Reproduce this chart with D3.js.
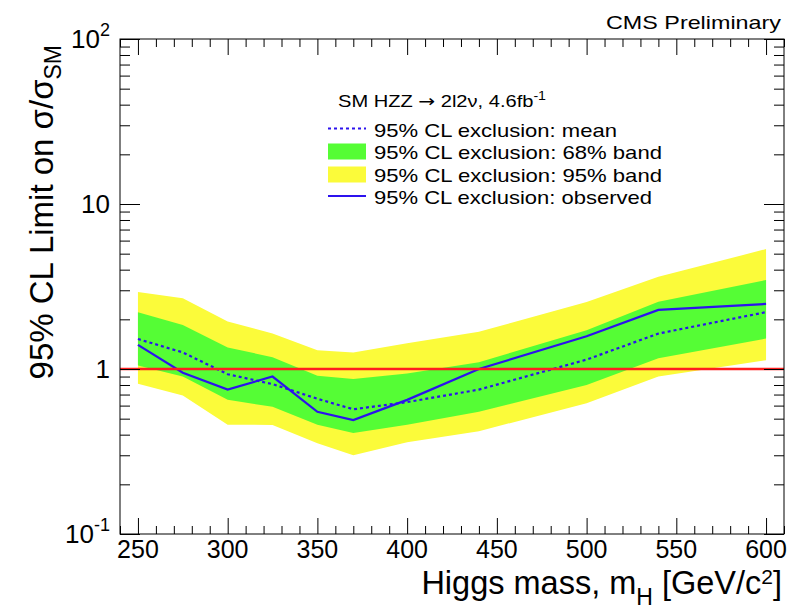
<!DOCTYPE html>
<html>
<head>
<meta charset="utf-8">
<script src="https://cdn.jsdelivr.net/npm/d3@7"></script>
<style>
  html, body { margin: 0; padding: 0; background: #fff; }
  svg { display: block; }
  text { font-family: "Liberation Sans", Arial, sans-serif; fill: #000; }
</style>
</head>
<body>
<div id="chart"></div>
<script>
// Higgs mass points (GeV/c^2) and limits on sigma/sigma_SM
const mass = [250, 275, 300, 325, 350, 370, 400, 440, 500, 540, 600];
const observed = [1.40, 0.95, 0.75, 0.90, 0.55, 0.49, 0.65, 1.00, 1.58, 2.28, 2.48];
const expMean = [1.52, 1.26, 0.93, 0.81, 0.66, 0.57, 0.63, 0.75, 1.14, 1.64, 2.21];
const band68Lo = [1.05, 0.90, 0.65, 0.59, 0.46, 0.41, 0.46, 0.55, 0.80, 1.16, 1.53];
const band68Hi = [2.21, 1.85, 1.35, 1.18, 0.91, 0.87, 0.94, 1.10, 1.72, 2.56, 3.46];
const band95Lo = [0.815, 0.69, 0.46, 0.458, 0.355, 0.30, 0.36, 0.42, 0.62, 0.90, 1.13];
const band95Hi = [2.93, 2.68, 1.94, 1.64, 1.30, 1.26, 1.43, 1.68, 2.55, 3.62, 5.33];

const xMajorTicks = [250, 300, 350, 400, 450, 500, 550, 600];
const yMajorTicks = [0.1, 1, 10, 100];
const yTickLabels = [['10', '-1'], ['1', ''], ['10', ''], ['10', '2']];
const smLine = 1;

const legendHeader = ['SM HZZ ', '\u2192', ' 2l2\u03bd, 4.6fb', '-1'];
const legendLabels = [
  '95% CL exclusion: mean',
  '95% CL exclusion: 68% band',
  '95% CL exclusion: 95% band',
  '95% CL exclusion: observed'
];

const W = 787, H = 609;
const frame = { left: 120, right: 784, top: 39, bottom: 534 };
const yellow = '#fbfb3a', green = '#55fd35', blue = '#2c12ee', red = '#ff1f1f';

const svg = d3.select('#chart').append('svg')
  .attr('width', W).attr('height', H);

const x = d3.scaleLinear().domain([240, 610]).range([frame.left, frame.right]);
const y = d3.scaleLog().domain([0.1, 100]).range([frame.bottom, frame.top]);

const rows = mass.map((m, i) => ({
  m, obs: observed[i], mean: expMean[i],
  lo68: band68Lo[i], hi68: band68Hi[i], lo95: band95Lo[i], hi95: band95Hi[i]
}));

const band = (lo, hi) => d3.area().x(d => x(d.m)).y0(d => y(d[lo])).y1(d => y(d[hi]));

svg.append('path').datum(rows).attr('d', band('lo95', 'hi95')).attr('fill', yellow);
svg.append('path').datum(rows).attr('d', band('lo68', 'hi68')).attr('fill', green);

svg.append('path').datum(rows)
  .attr('d', d3.line().x(d => x(d.m)).y(d => y(d.mean)))
  .attr('fill', 'none').attr('stroke', blue).attr('stroke-width', 2.2)
  .attr('stroke-dasharray', '3,3');

svg.append('path').datum(rows)
  .attr('d', d3.line().x(d => x(d.m)).y(d => y(d.obs)))
  .attr('fill', 'none').attr('stroke', blue).attr('stroke-width', 2.2);

svg.append('line')
  .attr('x1', frame.left).attr('x2', frame.right)
  .attr('y1', y(smLine)).attr('y2', y(smLine))
  .attr('stroke', red).attr('stroke-width', 2.4);

// axes: ROOT style, ticks pointing inwards on all four sides
const xMinor = d3.range(240, 611, 10).filter(v => !xMajorTicks.includes(v));
const yMinor = [];
[0.1, 1, 10].forEach(d => { for (let k = 2; k <= 9; k++) yMinor.push(d * k); });

function addAxis(axis, tx, ty) {
  const g = svg.append('g').attr('transform', `translate(${tx},${ty})`).call(axis);
  g.select('.domain').remove();
  g.selectAll('.tick line').attr('stroke', '#000').attr('stroke-width', 1);
  g.selectAll('.tick text').remove();
  return g;
}

addAxis(d3.axisBottom(x).tickValues(xMajorTicks).tickSize(-16), 0, frame.bottom);
addAxis(d3.axisBottom(x).tickValues(xMinor).tickSize(-8), 0, frame.bottom);
addAxis(d3.axisTop(x).tickValues(xMajorTicks).tickSize(-16), 0, frame.top);
addAxis(d3.axisTop(x).tickValues(xMinor).tickSize(-8), 0, frame.top);
addAxis(d3.axisLeft(y).tickValues(yMajorTicks).tickSize(-20), frame.left, 0);
addAxis(d3.axisLeft(y).tickValues(yMinor).tickSize(-10), frame.left, 0);
addAxis(d3.axisRight(y).tickValues(yMajorTicks).tickSize(-20), frame.right, 0);
addAxis(d3.axisRight(y).tickValues(yMinor).tickSize(-10), frame.right, 0);

svg.append('rect')
  .attr('x', frame.left).attr('y', frame.top)
  .attr('width', frame.right - frame.left).attr('height', frame.bottom - frame.top)
  .attr('fill', 'none').attr('stroke', '#000').attr('stroke-width', 1);

// tick labels
svg.append('g').selectAll('text').data(xMajorTicks).enter().append('text')
  .attr('x', d => x(d)).attr('y', frame.bottom + 24)
  .attr('text-anchor', 'middle').attr('font-size', 25)
  .text(d => d);

yMajorTicks.forEach((v, i) => {
  const t = svg.append('text')
    .attr('x', 110).attr('y', y(v) + 9)
    .attr('text-anchor', 'end').attr('font-size', 26);
  t.append('tspan').text(yTickLabels[i][0]);
  if (yTickLabels[i][1]) {
    t.append('tspan').attr('font-size', 18).attr('dy', -12).text(yTickLabels[i][1]);
  }
});

// axis titles
const xt = svg.append('text')
  .attr('x', frame.right - 2).attr('y', 594)
  .attr('text-anchor', 'end').attr('font-size', 32.5);
xt.append('tspan').text('Higgs mass, m');
xt.append('tspan').attr('font-size', 23).attr('dy', 11).text('H');
xt.append('tspan').attr('dy', -11).text(' [GeV/c');
xt.append('tspan').attr('font-size', 21).attr('dy', -10).text('2');
xt.append('tspan').attr('dy', 10).text(']');

const yt = svg.append('text')
  .attr('transform', 'translate(53,45) rotate(-90)')
  .attr('text-anchor', 'end').attr('font-size', 33);
yt.append('tspan').text('95% CL Limit on \u03c3/\u03c3');
yt.append('tspan').attr('font-size', 23).attr('dy', 8).text('SM');

svg.append('text')
  .attr('x', 781).attr('y', 28.5)
  .attr('text-anchor', 'end')
  .attr('font-family', '"DejaVu Sans", sans-serif').attr('font-size', 19)
  .attr('textLength', 175).attr('lengthAdjust', 'spacingAndGlyphs')
  .text('CMS Preliminary');

// legend
const legend = svg.append('g');
const lh = legend.append('text').attr('x', 338).attr('y', 106.5).attr('font-size', 17)
  .attr('textLength', 208).attr('lengthAdjust', 'spacingAndGlyphs');
lh.append('tspan').text(legendHeader[0]);
lh.append('tspan').attr('font-family', '"DejaVu Sans", sans-serif').text(legendHeader[1]);
lh.append('tspan').text(legendHeader[2]);
lh.append('tspan').attr('font-size', 12).attr('dy', -7).text(legendHeader[3]);

const entryY = [136.5, 159.3, 181.5, 203.5];
const entryW = [243, 288, 288, 278];
legendLabels.forEach((label, i) => {
  legend.append('text')
    .attr('x', 374).attr('y', entryY[i]).attr('font-size', 19)
    .attr('textLength', entryW[i]).attr('lengthAdjust', 'spacingAndGlyphs')
    .text(label);
});
legend.append('line').attr('x1', 328).attr('x2', 366).attr('y1', 128.5).attr('y2', 128.5)
  .attr('stroke', blue).attr('stroke-width', 2).attr('stroke-dasharray', '3,3');
legend.append('rect').attr('x', 328).attr('y', 143.5).attr('width', 38).attr('height', 16)
  .attr('fill', green);
legend.append('rect').attr('x', 328).attr('y', 166.5).attr('width', 38).attr('height', 16)
  .attr('fill', yellow);
legend.append('line').attr('x1', 328).attr('x2', 366).attr('y1', 196).attr('y2', 196)
  .attr('stroke', blue).attr('stroke-width', 2);
</script>
</body>
</html>
